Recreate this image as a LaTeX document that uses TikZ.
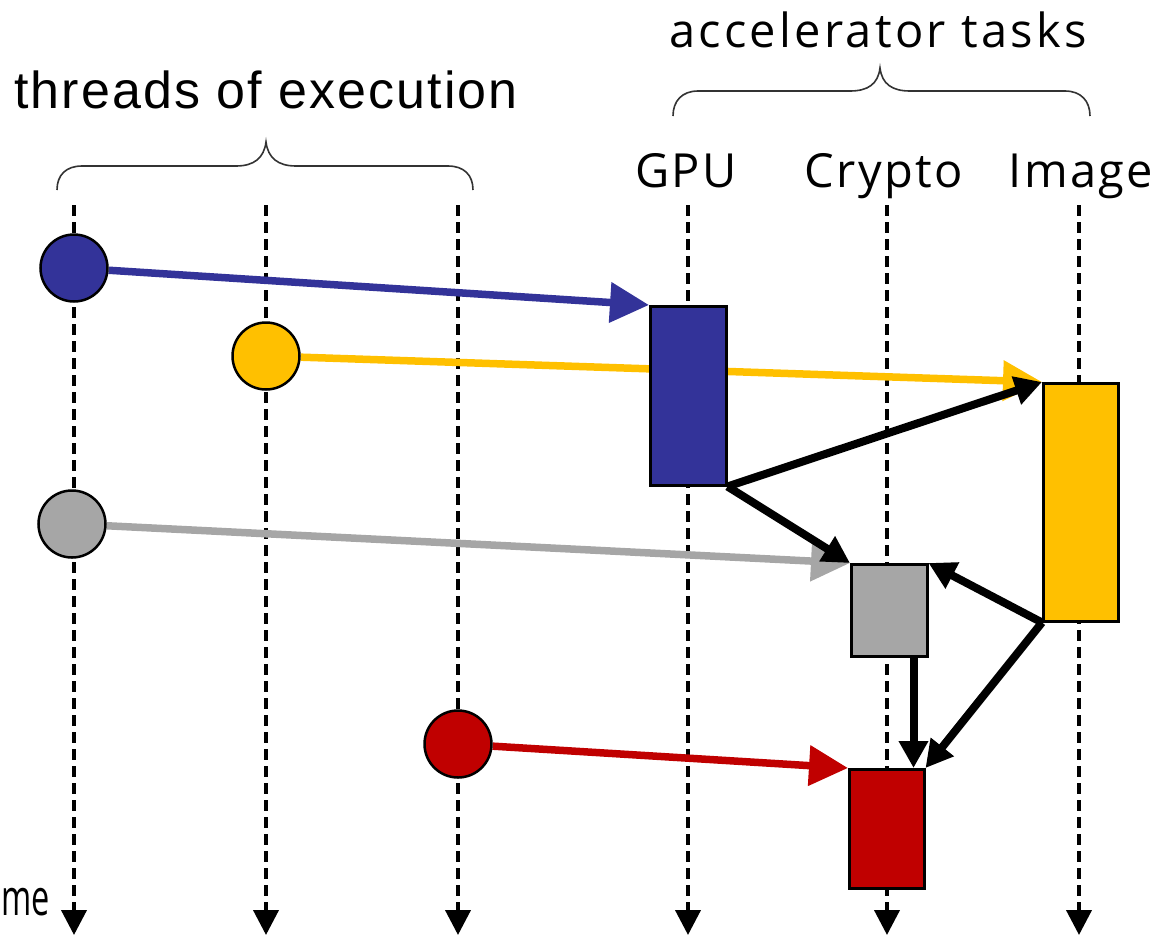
\documentclass[tikz,border=0pt]{standalone}
\usepackage{fontspec}
\setmainfont{Open Sans}[LetterSpace=5]
\newfontfamily\arialfont{Liberation Sans}[LetterSpace=4]
\newfontfamily\widefont{Open Sans}[LetterSpace=7]
\newfontfamily\tightfont{Open Sans}
\usetikzlibrary{arrows.meta}
\pgfdeclarelayer{back}
\pgfsetlayers{back,main}
\definecolor{tblue}{HTML}{333399}
\definecolor{tyellow}{HTML}{FFC000}
\definecolor{tgray}{HTML}{A6A6A6}
\definecolor{tred}{HTML}{C00000}
\tikzset{
  lane/.style={draw=black, line width=4pt, dash pattern=on 11pt off 6pt,
    -{Triangle[length=25pt,width=25pt]}},
  event/.style={circle, draw=black, line width=2.5pt, minimum size=67pt, inner sep=0pt},
  taskbox/.style={rectangle, draw=black, line width=2.5pt, inner sep=0pt, anchor=north west},
  request/.style={line width=7.5pt, -{Triangle[length=39pt,width=39pt]}},
  depend/.style={draw=black, line width=8pt, -{Triangle[length=27pt,width=28pt]}},
  brace/.style={draw=black!80, line width=1.6pt},
  accel/.style={font=\fontsize{47}{56}\selectfont, anchor=base, inner sep=0pt},
}
\begin{document}
\begin{tikzpicture}[x=1pt, y=-1pt]
\useasboundingbox (0,0) rectangle (1159,938);

% group headings
\node[anchor=base, inner sep=0pt, font=\arialfont\fontsize{52}{60}\selectfont] (thr) at (266,108) {threads of execution};
\node[accel, font=\widefont\fontsize{47}{56}\selectfont] (acc) at (878,47) {accelerator tasks};
\node[accel] (lgpu) at (686,187) {GPU};
\node[accel] (lcry) at (884,187) {Crypto};
\node[accel] (limg) at (1081,187) {Image};
\node[accel, font=\tightfont\fontsize{50}{60}\selectfont, anchor=base west] (ltime) at (1,915) {\scalebox{0.65}[1]{me}};

% braces
\draw[brace] (57,190) .. controls (57,175) and (66,166) .. (82,166) -- (236,166)
  .. controls (254,166) and (264,158) .. (266,142)
  .. controls (268,158) and (278,166) .. (296,166) -- (448,166)
  .. controls (464,166) and (473,175) .. (473,190);
\draw[brace] (673,116) .. controls (673,101) and (682,91) .. (698,91) -- (850,91)
  .. controls (868,91) and (878,84) .. (880,68)
  .. controls (882,84) and (892,91) .. (910,91) -- (1065,91)
  .. controls (1081,91) and (1090,101) .. (1090,116);

% lane end points
\foreach \n/\x in {1/74, 2/266, 3/458, 4/688, 5/887, 6/1079}{
  \coordinate (L\n t) at (\x,205);
  \coordinate (L\n b) at (\x,935);
}

% events on the threads
\node[event, fill=tblue] (e1) at (74,268) {};
\node[event, fill=tyellow] (e2) at (266,356) {};
\node[event, fill=tgray] (e3) at (72,524) {};
\node[event, fill=tred] (e4) at (458,744) {};

% accelerator tasks
\node[taskbox, fill=tblue, minimum width=76pt, minimum height=179pt] (tgpu) at (649,305) {};
\node[taskbox, fill=tyellow, minimum width=75pt, minimum height=238pt] (timg) at (1042,382) {};
\node[taskbox, fill=tgray, minimum width=76pt, minimum height=92pt] (tcry) at (850,563) {};
\node[taskbox, fill=tred, minimum width=75pt, minimum height=119pt] (tred) at (848,768) {};

\begin{pgfonlayer}{back}
  \foreach \n in {1,...,6}{ \draw[lane] (L\n t) -- (L\n b); }
  \draw[request, draw=tblue] (e1) -- (tgpu.north west);
  \draw[request, draw=tyellow] (e2) -- (timg.north west);
  \draw[request, draw=tgray] (e3) -- (tcry.north west);
  \draw[request, draw=tred] (e4) -- (tred.north west);
\end{pgfonlayer}

% dependencies between accelerator tasks
\draw[depend] (tgpu.south east) -- (timg.north west);
\draw[depend] (tgpu.south east) -- (tcry.north west);
\draw[depend] (timg.south west) -- (tcry.north east);
\draw[depend] (timg.south west) -- (tred.north east);
\draw[depend] ([xshift=-15pt]tcry.south east) -- ([xshift=-12pt]tred.north east);
\end{tikzpicture}
\end{document}
